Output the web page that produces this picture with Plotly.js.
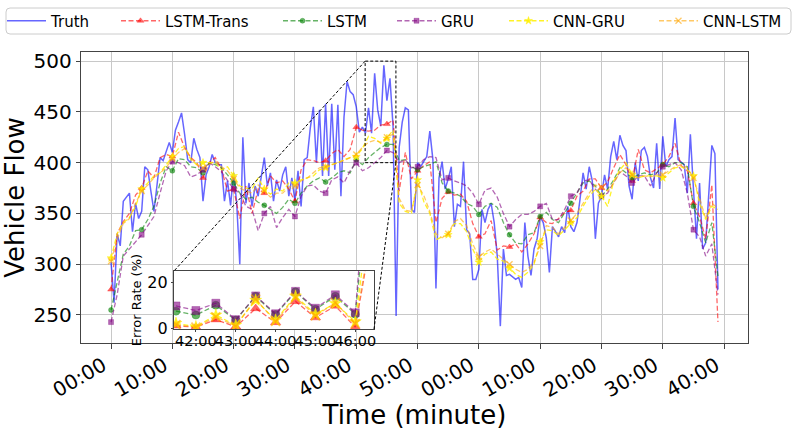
<!DOCTYPE html>
<html><head><meta charset="utf-8">
<script src="https://cdn.plot.ly/plotly-3.0.1.min.js"></script>
<style>html,body{margin:0;padding:0;background:#fff}#chart{width:797px;height:430px}</style>
</head><body><div id="chart"></div>
<script>
// ---- data ----
const tickVals = [0,10,20,30,40,50,60,70,80,90,100];
const tickText = ['00:00','10:00','20:00','30:00','40:00','50:00','00:00','10:00','20:00','30:00','40:00'];
const truthStep = 0.5; // minutes between truth samples
const predStep = 1;    // minutes between prediction samples
const truth = [302,262,330,318,362,366,370,332,360,345,352,396,393,372,352,378,405,402,412,420,410,432,440,449,428,403,400,424,413,405,362,388,396,
408,400,398,398,362,382,358,390,360,300,425,360,380,357,377,367,387,405,377,390,362,383,372,388,396,367,385,362,392,357,403,405,434,
455,400,452,387,458,387,458,393,457,367,445,480,470,467,455,430,435,429,454,429,488,452,436,496,461,483,436,249,415,440,
454,452,354,351,400,396,401,406,431,403,276,385,401,374,384,396,337,359,357,401,334,330,285,285,295,354,341,354,360,341,308,239,315,289,290,
287,285,287,277,341,308,289,315,325,347,341,326,292,337,332,327,337,331,357,337,332,341,364,390,374,396,382,325,360,367,388,374,406,
421,403,427,417,412,377,364,400,382,412,415,406,385,375,419,374,426,396,403,406,444,403,400,398,370,428,374,325,380,315,321,367,417,409,275];
const lstmTrans = [275,330,342,350,368,375,392,385,405,408, 406,430,415,405,400,385,400,405,394,372, 374,345,377,350,374,370,387,380,382,374, 362,393,403,402,400,402,409,413,406,413, 435,432,431,432,437,438,442,372,410,384, 392,397,401,341,365,371,368,369,362,340, 327,330,343,314,318,317,320,312,320,330, 346,341,340,345,351,353,367,372,384,384, 375,381,395,408,398,382,413,393,390,394, 398,406,419,397,392,360,347,325,378,243];
const lstm = [255,282,310,318,333,334,344,357,380,396, 392,404,403,396,395,390,400,398,395,388, 380,370,364,366,361,358,354,350,356,364, 360,370,377,382,385,381,385,390,392,390, 403,398,405,410,415,418,418,402,403,396, 393,396,398,401,380,372,370,367,360,357, 349,357,360,356,341,329,321,320,329,331, 347,351,344,341,351,360,370,380,382,377, 367,374,383,395,390,385,388,390,388,390, 398,396,400,400,396,357,341,321,341,288];
const gru = [243,270,308,315,322,329,338,347,370,392, 401,400,397,386,388,393,400,396,391,382, 374,370,357,354,333,350,357,336,346,354, 347,367,377,378,372,370,383,386,380,392, 400,392,395,400,405,412,410,400,403,395, 396,403,406,405,383,385,382,380,377,370, 359,373,375,366,350,337,344,349,349,352, 357,360,344,344,354,367,370,382,383,374, 367,370,380,391,387,380,387,387,377,390, 396,398,400,393,370,334,327,308,320,270];
const cnnGru = [306,330,341,346,357,374,380,387,390,398, 406,414,416,403,398,400,400,400,393,396, 387,377,375,374,385,374,369,374,372,380, 380,383,385,387,393,395,398,400,403,405, 406,414,426,424,419,424,432,360,352,350, 383,362,350,324,327,329,340,340,332,315, 302,310,312,305,303,296,290,287,292,300, 322,334,333,328,334,341,346,357,367,374, 367,357,382,393,400,388,385,387,387,387, 385,390,395,396,393,387,360,344,357,354];
const cnnLstm = [303,325,340,345,360,372,378,385,390,395, 404,410,414,405,398,395,398,402,396,392, 384,375,372,370,378,372,366,370,370,376, 377,382,385,390,395,396,398,400,402,405, 408,415,420,422,420,425,428,365,353,352, 378,368,352,330,326,330,342,345,338,320, 307,312,315,310,305,300,295,292,295,302, 318,338,336,330,336,343,350,360,370,378, 376,372,380,390,395,388,385,387,386,388, 388,392,396,398,395,385,365,345,360,355];

const errTime = [41.5,42,42.5,43,43.5,44,44.5,45,45.5,46,46.5];
const errTickVals = [42,43,44,45,46];
const errTickText = ['42:00','43:00','44:00','45:00','46:00'];
const errLstmTrans = [1.1,0.5,3.8,0.7,8.7,2.6,11.8,4.7,9.8,0.5,50];
const errLstm = [7.5,5.8,10.1,3.6,14.0,6.0,16.0,8.3,14.0,6.2,92];
const errGru = [9.8,7.8,11.0,3.8,14.2,6.4,16.2,8.8,14.7,6.8,115];
const errCnnGru = [2.2,0.7,5.8,1.4,12.3,3.6,14.1,6.2,10.9,2.9,70];
const errCnnLstm = [1.6,0.5,5.0,1.0,12.8,3.0,13.6,5.5,11.2,2.0,52];

// ---- styling ----
const FONT = 'DejaVu Sans, Liberation Sans, sans-serif';
const X_RANGE = [-4.9, 103.9];
const Y_RANGE = [222.4, 509];
const X2_RANGE = [41.45, 46.47];
const Y2_RANGE = [-0.3, 25.1];
const X2_DOM = [0.1394, 0.4393];
const Y2_DOM = [0.0481, 0.2474];
const DASH = '5px,2.5px';

const series = [
  {name:'LSTM-Trans', y:lstmTrans, err:errLstmTrans, color:'rgba(255,0,0,0.6)', symbol:'triangle-up', size:6, legendStart:126},
  {name:'LSTM', y:lstm, err:errLstm, color:'rgba(0,128,0,0.6)', symbol:'circle', size:5, legendStart:288},
  {name:'GRU', y:gru, err:errGru, color:'rgba(128,0,128,0.6)', symbol:'square', size:5, legendStart:402},
  {name:'CNN-GRU', y:cnnGru, err:errCnnGru, color:'rgba(255,240,0,0.85)', symbol:'star', size:6, legendStart:514},
  {name:'CNN-LSTM', y:cnnLstm, err:errCnnLstm, color:'rgba(255,165,0,0.6)', symbol:'x-thin-open', size:6, legendStart:664}
];

const traces = [];
const truthX = truth.map((_, i) => i * truthStep);
traces.push({x:truthX, y:truth, mode:'lines', line:{color:'rgba(0,0,255,0.6)', width:1.5}, showlegend:false, hoverinfo:'skip'});
traces.push({x:[null], y:[null], mode:'lines', name:'Truth', line:{color:'rgba(0,0,255,0.6)', width:1.5}, legend:'legend'});

series.forEach((s, i) => {
  const xs = s.y.map((_, j) => j * predStep);
  const isX = s.symbol.startsWith('x');
  const mk = {symbol:s.symbol, size:s.size, color:s.color, line:{color:s.color, width: isX ? 1.4 : 0.5}};
  traces.push({x:xs, y:s.y, mode:'lines', line:{color:s.color, width:1.3, dash:DASH}, showlegend:false, hoverinfo:'skip'});
  const mx = [], my = [];
  s.y.forEach((v, j) => { if ((j * predStep) % 5 === 0) { mx.push(j * predStep); my.push(v); } });
  traces.push({x:mx, y:my, mode:'markers', marker:mk, showlegend:false, hoverinfo:'skip'});
  traces.push({x:[null], y:[null], mode:'lines+markers', name:s.name, line:{color:s.color, width:1.3, dash:DASH},
    marker:{symbol:s.symbol, size:s.size, color:s.color, line:{color:s.color, width:isX?1.3:0.5}}, legend:'legend'+(i+2)});
});
series.forEach((s) => {
  const isX = s.symbol.startsWith('x');
  traces.push({x:errTime, y:s.err, xaxis:'x2', yaxis:'y2', mode:'lines+markers', line:{color:s.color, width:1.3, dash:DASH},
    marker:{symbol:s.symbol, size:s.size+3, color:s.color, line:{color:s.color, width: isX ? 1.8 : 0.5}},
    showlegend:false, hoverinfo:'skip'});
});

// ---- layout helpers ----
const px = (t) => (t - X_RANGE[0]) / (X_RANGE[1] - X_RANGE[0]);
const py = (v) => (v - Y_RANGE[0]) / (Y_RANGE[1] - Y_RANGE[0]);
const PLOT_L = 81, PLOT_W = 667, PLOT_T = 52, PLOT_H = 291;
const pxPaper = (p) => (p - PLOT_L) / PLOT_W;
const pyPaper = (p) => 1 + (PLOT_T - p) / PLOT_H;

// rounded legend frame path (paper coords)
const fx0 = pxPaper(6), fx1 = pxPaper(791), fy0 = pyPaper(34), fy1 = pyPaper(8);
const rx = 4 / PLOT_W, ry = 4 / PLOT_H;
const framePath = `M${fx0+rx},${fy0} L${fx1-rx},${fy0} Q${fx1},${fy0} ${fx1},${fy0+ry} L${fx1},${fy1-ry} Q${fx1},${fy1} ${fx1-rx},${fy1} L${fx0+rx},${fy1} Q${fx0},${fy1} ${fx0},${fy1-ry} L${fx0},${fy0+ry} Q${fx0},${fy0} ${fx0+rx},${fy0} Z`;

const shapes = [
  {type:'path', xref:'paper', yref:'paper', path:framePath, line:{color:'#cccccc', width:1}, fillcolor:'rgba(255,255,255,0.8)', layer:'below'},
  {type:'rect', xref:'x2', yref:'y2', x0:X2_RANGE[0], x1:X2_RANGE[1], y0:Y2_RANGE[0], y1:Y2_RANGE[1], fillcolor:'#ffffff', line:{width:0}, layer:'below'},
  {type:'rect', xref:'x', yref:'y', x0:X2_RANGE[0], x1:X2_RANGE[1], y0:400, y1:500, line:{color:'#000', width:1, dash:'3px,2px'}, layer:'above'},
  {type:'line', xref:'paper', yref:'paper', x0:px(X2_RANGE[0]), y0:py(500), x1:X2_DOM[0], y1:Y2_DOM[1], line:{color:'#000', width:1, dash:'3px,2px'}, layer:'above'},
  {type:'line', xref:'paper', yref:'paper', x0:px(X2_RANGE[1]), y0:py(400), x1:X2_DOM[1], y1:Y2_DOM[0], line:{color:'#000', width:1, dash:'3px,2px'}, layer:'above'}
];

const legendBase = (startPx) => ({x:pxPaper(startPx - 10), xanchor:'left', y:pyPaper(21), yanchor:'middle',
  bgcolor:'rgba(0,0,0,0)', borderwidth:0, font:{family:FONT, size:15, color:'#000'}, itemwidth:39, orientation:'v', tracegroupgap:0});

const layout = {
  width:797, height:430,
  margin:{l:PLOT_L, r:797-PLOT_L-PLOT_W, t:PLOT_T, b:430-PLOT_T-PLOT_H, pad:0, autoexpand:false},
  paper_bgcolor:'#fff', plot_bgcolor:'#fff',
  font:{family:FONT, color:'#000'},
  xaxis:{range:X_RANGE, tickvals:tickVals, ticktext:tickText, tickangle:-30, showgrid:true, gridcolor:'#c8c8c8', gridwidth:1,
    automargin:false, zeroline:false, showline:true, linecolor:'#444', linewidth:1.2, mirror:true, ticks:'outside', ticklen:5, tickcolor:'#444',
    ticklabelshift:-8, ticklabelstandoff:-3,
    tickfont:{family:FONT, size:20, color:'#000'}, title:{text:'Time (minute)', font:{family:FONT, size:26, color:'#000'}, standoff:8}},
  yaxis:{range:Y_RANGE, tickvals:[250,300,350,400,450,500], showgrid:true, gridcolor:'#c8c8c8', gridwidth:1,
    automargin:false, zeroline:false, showline:true, linecolor:'#444', linewidth:1.2, mirror:true, ticks:'outside', ticklen:4, tickcolor:'#444',
    tickfont:{family:FONT, size:20, color:'#000'}, title:{text:'Vehicle Flow', font:{family:FONT, size:26, color:'#000'}, standoff:12}},
  xaxis2:{domain:X2_DOM, anchor:'y2', range:X2_RANGE, tickvals:errTickVals, ticktext:errTickText, tickangle:0, showgrid:false, zeroline:false,
    automargin:false, showline:true, linecolor:'#444', linewidth:1.2, mirror:true, ticks:'outside', ticklen:2, tickcolor:'#444',
    ticklabelstandoff:-4,
    tickfont:{family:FONT, size:14.5, color:'#000'}},
  yaxis2:{domain:Y2_DOM, anchor:'x2', range:Y2_RANGE, tickvals:[0,20], showgrid:false, zeroline:false,
    automargin:false, showline:true, linecolor:'#444', linewidth:1.2, mirror:true, ticks:'outside', ticklen:2, tickcolor:'#444',
    tickfont:{family:FONT, size:16, color:'#000'}, title:{text:'Error Rate (%)', font:{family:FONT, size:13, color:'#000'}, standoff:2}},
  shapes:shapes,
  showlegend:true,
  legend:legendBase(12)
};
series.forEach((s, i) => { layout['legend'+(i+2)] = legendBase(s.legendStart); });

Plotly.newPlot('chart', traces, layout, {displayModeBar:false, staticPlot:true});
</script></body></html>
